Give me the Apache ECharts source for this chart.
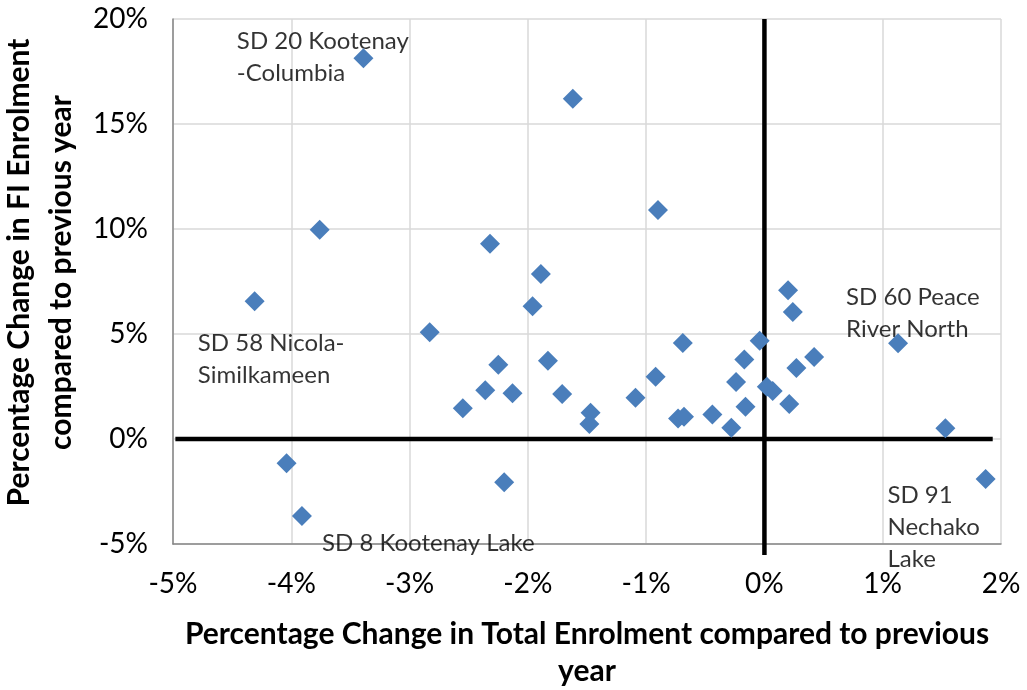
<!DOCTYPE html>
<html>
<head>
<meta charset="utf-8">
<script src="https://cdn.jsdelivr.net/npm/echarts@6/dist/echarts.min.js"></script>
<style>
  html, body { margin: 0; padding: 0; background: #fff; }
  #chart { width: 1027px; height: 690px; }
</style>
</head>
<body>
<div id="chart"></div>
<script>
// % change in total enrolment (x) vs % change in FI enrolment (y), one point per district
var totalChange = [-3.39, -1.62, -3.76, -2.32, -1.89, -0.90, -4.31, -1.96, -2.83, -2.25,
  -1.83, -2.36, -2.13, -1.71, -2.55, -1.47, -1.48, -4.04, -3.91, -2.20,
  0.20, 0.24, -0.69, -0.04, -0.17, 0.42, 0.27, -0.92, -0.24, 0.02,
  0.07, -1.09, -0.16, 0.21, -0.73, -0.68, -0.44, -0.28, 1.13, 1.53, 1.87];
var fiChange = [18.13, 16.2, 9.97, 9.3, 7.86, 10.9, 6.56, 6.32, 5.08, 3.54,
  3.73, 2.32, 2.18, 2.14, 1.46, 1.25, 0.71, -1.16, -3.67, -2.06,
  7.08, 6.05, 4.57, 4.68, 3.79, 3.9, 3.38, 2.97, 2.71, 2.49,
  2.29, 1.97, 1.54, 1.67, 0.98, 1.06, 1.17, 0.54, 4.56, 0.51, -1.9];

var xTicks = [-5, -4, -3, -2, -1, 0, 1, 2];
var yTicks = [-5, 0, 5, 10, 15, 20];

// callout text, anchored at its top-left corner in data units
var noteText = ["SD 20 Kootenay\n-Columbia", "SD 58 Nicola-\nSimilkameen", "SD 8 Kootenay Lake",
  "SD 60 Peace\nRiver North", "SD 91\nNechako\nLake"];
var noteX = [-4.46, -4.79, -3.74, 0.69, 1.04];
var noteY = [19.7, 5.3, -4.22, 7.5, -1.9];

// the heavy zero lines
var hLine = [[-4.98, 0], [1.93, 0]];
var vLine = [[0, 20], [0, -5.52]];

var points = totalChange.map(function (x, i) { return [x, fiChange[i]]; });
var notes = noteText.map(function (t, i) { return [noteX[i], noteY[i], t]; });

var font = "Lato, 'Open Sans', sans-serif";
var zeroLine = function (d) {
  return {
    type: "line",
    data: d,
    showSymbol: false,
    symbol: "none",
    clip: false,
    silent: true,
    lineStyle: { color: "#000", width: 4.5 },
    z: 1
  };
};

var chart = echarts.init(document.getElementById("chart"));
chart.setOption({
  animation: false,
  grid: { left: 173, right: 26, top: 19, bottom: 146, outerBoundsMode: "none", containLabel: false },
  xAxis: {
    type: "value",
    min: xTicks[0],
    max: xTicks[xTicks.length - 1],
    interval: 1,
    axisLine: { onZero: false, lineStyle: { color: "#868686", width: 1.5 } },
    axisTick: { show: false },
    splitLine: { lineStyle: { color: "#d9d9d9", width: 1.5 } },
    axisLabel: { formatter: "{value}%", color: "#000", fontSize: 28, fontFamily: font, margin: 26 },
    name: "Percentage Change in Total Enrolment compared to previous\nyear",
    nameLocation: "middle",
    nameGap: 72,
    nameTextStyle: { color: "#000", fontSize: 30, fontWeight: "bold", fontFamily: font, lineHeight: 37 }
  },
  yAxis: {
    type: "value",
    min: yTicks[0],
    max: yTicks[yTicks.length - 1],
    interval: 5,
    axisLine: { onZero: false, lineStyle: { color: "#868686", width: 1.5 } },
    axisTick: { show: false },
    splitLine: { lineStyle: { color: "#d9d9d9", width: 1.5 } },
    axisLabel: { formatter: "{value}%", color: "#000", fontSize: 28, fontFamily: font, margin: 25 },
    name: "Percentage Change in FI Enrolment\ncompared to previous year",
    nameLocation: "middle",
    nameRotate: 90,
    nameGap: 82,
    nameTextStyle: { color: "#000", fontSize: 30, fontWeight: "bold", fontFamily: font, lineHeight: 42,
      padding: [0, 0, 0, 18] }
  },
  series: [
    zeroLine(hLine),
    zeroLine(vLine),
    {
      type: "scatter",
      data: points,
      symbol: "diamond",
      symbolSize: 20,
      clip: false,
      itemStyle: { color: "#4A7EBB", opacity: 1 },
      z: 3
    },
    {
      type: "scatter",
      data: notes,
      symbolSize: 0,
      silent: true,
      clip: false,
      label: {
        show: true,
        position: [0, 0],
        align: "left",
        verticalAlign: "top",
        formatter: function (p) { return p.data[2]; },
        color: "#000",
        fontSize: 24,
        fontFamily: font,
        lineHeight: 32
      }
    }
  ]
});
</script>
</body>
</html>
